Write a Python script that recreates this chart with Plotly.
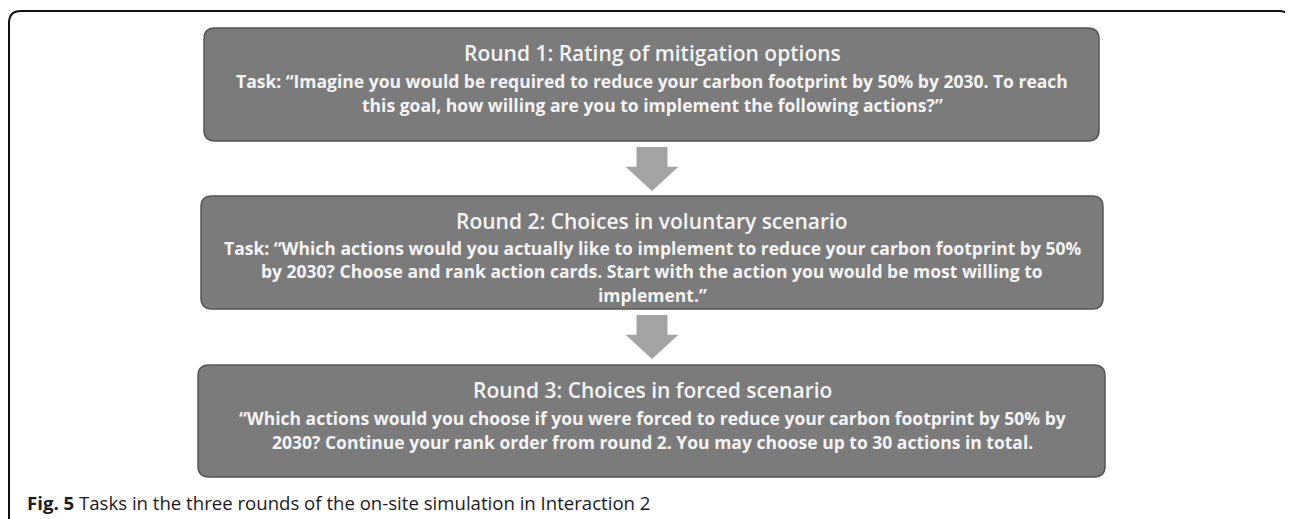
import plotly.graph_objects as go

W, H = 1293, 519
PAGE_OFF = 8  # default body margin of the html page

titles = [
    "Round 1: Rating of mitigation options",
    "Round 2: Choices in voluntary scenario",
    "Round 3: Choices in forced scenario",
]
task_lines = [
    ["Task: \u201cImagine you would be required to reduce your carbon footprint by 50% by 2030. To reach",
     "this goal, how willing are you to implement the following actions?\u201d"],
    ["Task: \u201cWhich actions would you actually like to implement to reduce your carbon footprint by 50%",
     "by 2030? Choose and rank action cards. Start with the action you would be most willing to",
     "implement.\u201d"],
    ["\u201cWhich actions would you choose if you were forced to reduce your carbon footprint by 50% by",
     "2030? Continue your rank order from round 2. You may choose up to 30 actions in total."],
]
caption_bold = "Fig. 5"
caption_text = "Tasks in the three rounds of the on-site simulation in Interaction 2"

# layout geometry (page pixels)
boxes = [(204, 28, 1099, 141), (201, 196, 1103, 309), (198, 365, 1105, 477)]
title_y = [53, 221, 390]
line_y = [[81, 105], [248, 271, 295], [418, 442]]
arrows = [(147, 191), (315, 359)]
cx = 652

BOX_FILL = "#7b7b7b"
BOX_LINE = "#555555"
ARROW = "#a3a3a3"
TXT = "#f4f4f4"


def rrect(x0, y0, x1, y1, r):
    return (f"M {x0+r},{y0} L {x1-r},{y0} Q {x1},{y0} {x1},{y0+r} "
            f"L {x1},{y1-r} Q {x1},{y1} {x1-r},{y1} L {x0+r},{y1} "
            f"Q {x0},{y1} {x0},{y1-r} L {x0},{y0+r} Q {x0},{y0} {x0+r},{y0} Z")


shapes = []
# outer frame (open at the bottom)
fx0, fy0, fx1, r = 9, 11, 1291, 12
shapes.append(dict(type="path", xref="x", yref="y",
                   path=(f"M {fx0},{H+5} L {fx0},{fy0+r} Q {fx0},{fy0} {fx0+r},{fy0} "
                         f"L {fx1-r},{fy0} Q {fx1},{fy0} {fx1},{fy0+r} L {fx1},{H+5}"),
                   line=dict(color="#111111", width=2)))
for (x0, y0, x1, y1) in boxes:
    shapes.append(dict(type="path", xref="x", yref="y", path=rrect(x0, y0, x1, y1, 11),
                       fillcolor=BOX_FILL, line=dict(color=BOX_LINE, width=1.5)))
for (ya, yb) in arrows:
    hs = 15.5   # half shaft width
    hh = 26.5   # half head width
    yh = ya + (yb - ya) * 0.45
    p = (f"M {cx-hs},{ya} L {cx+hs},{ya} L {cx+hs},{yh} L {cx+hh},{yh} "
         f"L {cx},{yb} L {cx-hh},{yh} L {cx-hs},{yh} Z")
    shapes.append(dict(type="path", xref="x", yref="y", path=p,
                       fillcolor=ARROW, line=dict(width=0)))

annotations = []
FONT = "Open Sans"
for i, t in enumerate(titles):
    annotations.append(dict(x=cx, y=title_y[i], xref="x", yref="y", text=t,
                            showarrow=False, xanchor="center", yanchor="middle",
                            font=dict(family=FONT, size=21, color=TXT, weight=600)))
    for j, ln in enumerate(task_lines[i]):
        annotations.append(dict(x=cx, y=line_y[i][j], xref="x", yref="y", text=ln,
                                showarrow=False, xanchor="center", yanchor="middle",
                                font=dict(family=FONT, size=17.5, color=TXT, weight=700)))
annotations.append(dict(x=25, y=502, xref="x", yref="y",
                        text=f"<b>{caption_bold}</b> {caption_text}",
                        showarrow=False, xanchor="left", yanchor="middle",
                        font=dict(family=FONT, size=18.6, color="#1a1a1a")))

fig = go.Figure()
fig.update_layout(
    width=W - PAGE_OFF, height=H - PAGE_OFF,
    margin=dict(l=0, r=0, t=0, b=0),
    paper_bgcolor="white", plot_bgcolor="white",
    xaxis=dict(range=[PAGE_OFF, W], visible=False, fixedrange=True),
    yaxis=dict(range=[H, PAGE_OFF], visible=False, fixedrange=True),
    shapes=shapes, annotations=annotations, showlegend=False,
)
fig.write_html("out.html")
